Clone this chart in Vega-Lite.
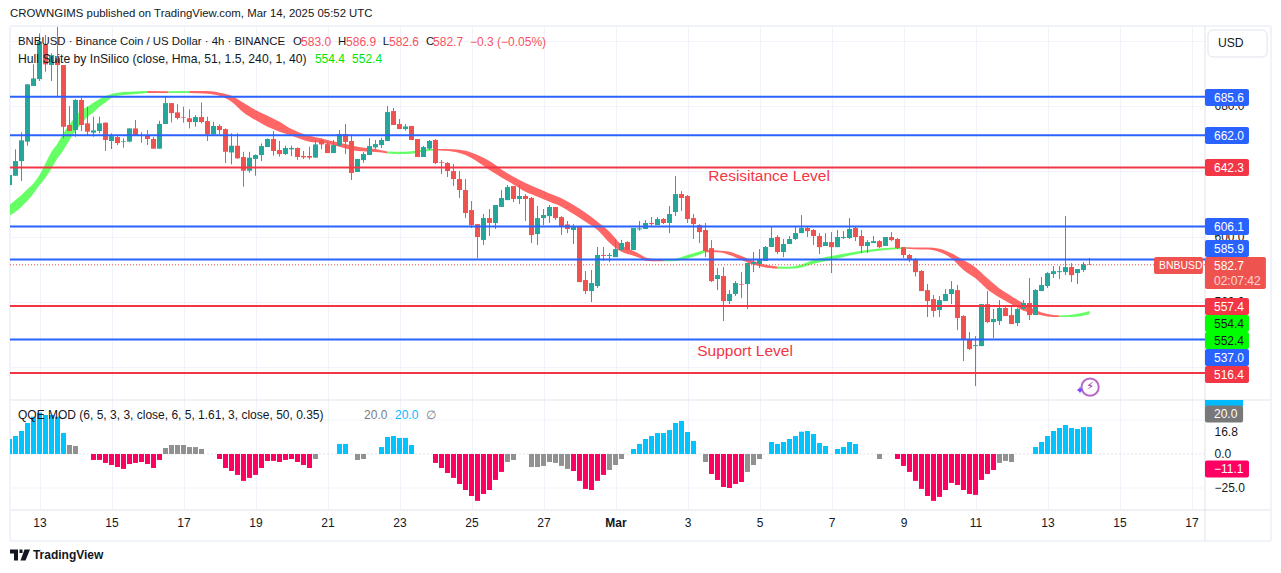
{"$schema":"https://vega.github.io/schema/vega-lite/v6.json","padding":{"left":8,"top":7,"right":0,"bottom":0},"spacing":0,"bounds":"flush","background":"#ffffff","config":{"font":"Liberation Sans","scale":{"continuousPadding":0},"view":{"stroke":null},"axis":{"labelColor":"#131722","labelFontSize":12,"gridColor":"#f0f3fa","domain":false,"ticks":false}},"datasets":{"candles":[{"i":0,"o":631.5,"h":645,"l":625,"c":637.7},{"i":1,"o":637.2,"h":653.4,"l":637.2,"c":646.2},{"i":2,"o":646.2,"h":663.8,"l":634,"c":658.9},{"i":3,"o":658.1,"h":693.2,"l":655.6,"c":693.2},{"i":4,"o":692.2,"h":705.4,"l":692.2,"c":696.8},{"i":5,"o":696.4,"h":724.4,"l":695.2,"c":719.3},{"i":6,"o":717.3,"h":723.4,"l":700.9,"c":705.4},{"i":7,"o":705,"h":712.2,"l":695.2,"c":711.1},{"i":8,"o":709.1,"h":735,"l":685.6,"c":705},{"i":9,"o":705,"h":705,"l":660.1,"c":667.2},{"i":10,"o":668.3,"h":679.9,"l":664.6,"c":664.6},{"i":11,"o":665.2,"h":684.2,"l":661.1,"c":683.6},{"i":12,"o":683.6,"h":685,"l":664.6,"c":668.3},{"i":13,"o":669.3,"h":679.5,"l":662.1,"c":664.2},{"i":14,"o":663.6,"h":673.4,"l":661.1,"c":665},{"i":15,"o":664.6,"h":673.4,"l":663.2,"c":669.3},{"i":16,"o":669.7,"h":669.9,"l":652.4,"c":659.1},{"i":17,"o":658.5,"h":663.2,"l":653.6,"c":661.5},{"i":18,"o":660.9,"h":661.5,"l":656,"c":657.2},{"i":19,"o":658.1,"h":660.1,"l":654.4,"c":658.5},{"i":20,"o":658.1,"h":666.2,"l":657.7,"c":666.2},{"i":21,"o":666.2,"h":671.3,"l":661.7,"c":661.7},{"i":22,"o":661.7,"h":663.8,"l":657.4,"c":662.1},{"i":23,"o":662.1,"h":665.2,"l":656,"c":659.7},{"i":24,"o":659.7,"h":661.1,"l":653.8,"c":653.8},{"i":25,"o":653.8,"h":670.9,"l":653.8,"c":668.9},{"i":26,"o":668.9,"h":685.6,"l":668.9,"c":681.7},{"i":27,"o":681.7,"h":681.7,"l":669.9,"c":675.6},{"i":28,"o":676,"h":681.1,"l":671.7,"c":672.6},{"i":29,"o":673,"h":679.5,"l":669.7,"c":672.6},{"i":30,"o":672.4,"h":677.9,"l":666.2,"c":670.1},{"i":31,"o":670.1,"h":674.4,"l":667.2,"c":673.2},{"i":32,"o":673.2,"h":682.1,"l":669.3,"c":670.1},{"i":33,"o":670.7,"h":673.4,"l":658.5,"c":662.6},{"i":34,"o":662.6,"h":670.3,"l":662.6,"c":667.7},{"i":35,"o":667.7,"h":668.7,"l":662.6,"c":665.2},{"i":36,"o":665.8,"h":666.2,"l":645,"c":651.9},{"i":37,"o":651.5,"h":663.2,"l":644.2,"c":655.6},{"i":38,"o":655.6,"h":663.2,"l":647.5,"c":647.9},{"i":39,"o":648.7,"h":651.9,"l":630.5,"c":640.3},{"i":40,"o":640.3,"h":651.9,"l":639.1,"c":648.3},{"i":41,"o":647.5,"h":650.3,"l":637.2,"c":649.9},{"i":42,"o":649.9,"h":657,"l":646.2,"c":655.4},{"i":43,"o":654.8,"h":660.1,"l":654.8,"c":659.7},{"i":44,"o":659.7,"h":664.6,"l":649.5,"c":652.4},{"i":45,"o":653,"h":658.5,"l":648.9,"c":650.5},{"i":46,"o":650.5,"h":655.6,"l":649.9,"c":654.2},{"i":47,"o":653.4,"h":655.6,"l":649.3,"c":654.2},{"i":48,"o":654.2,"h":654.6,"l":647,"c":648.7},{"i":49,"o":649.3,"h":652.4,"l":647.5,"c":648.5},{"i":50,"o":649.3,"h":655,"l":647.2,"c":648.3},{"i":51,"o":648.3,"h":659.1,"l":648.3,"c":656.4},{"i":52,"o":659.1,"h":660.1,"l":653.4,"c":656.4},{"i":53,"o":656.6,"h":658.1,"l":651.1,"c":651.1},{"i":54,"o":651.1,"h":659.1,"l":651.1,"c":656},{"i":55,"o":655.6,"h":665.2,"l":655.6,"c":662.8},{"i":56,"o":662.8,"h":668.9,"l":650.5,"c":657.9},{"i":57,"o":658.5,"h":662.6,"l":634.6,"c":638.9},{"i":58,"o":639.5,"h":647.5,"l":639.5,"c":647.5},{"i":59,"o":646.8,"h":651.7,"l":645.2,"c":650.5},{"i":60,"o":649.9,"h":660.3,"l":649.9,"c":655.4},{"i":61,"o":654.6,"h":659.1,"l":653.6,"c":656.6},{"i":62,"o":656,"h":660.5,"l":654.2,"c":659.1},{"i":63,"o":658.5,"h":679.9,"l":658.5,"c":676.2},{"i":64,"o":676.8,"h":678.7,"l":668.3,"c":668.3},{"i":65,"o":668.9,"h":671.9,"l":665.8,"c":665.8},{"i":66,"o":665.8,"h":668.9,"l":664.8,"c":667.4},{"i":67,"o":667.7,"h":667.7,"l":659.1,"c":659.1},{"i":68,"o":659.7,"h":659.7,"l":648.7,"c":648.7},{"i":69,"o":648.7,"h":655.4,"l":648.7,"c":654.8},{"i":70,"o":653.8,"h":659.1,"l":653,"c":658.5},{"i":71,"o":659.1,"h":659.7,"l":644.4,"c":645},{"i":72,"o":645.6,"h":646.8,"l":638.3,"c":645.2},{"i":73,"o":645,"h":645.6,"l":636.4,"c":640.1},{"i":74,"o":640.1,"h":644.4,"l":630.9,"c":635.2},{"i":75,"o":635.2,"h":640.1,"l":623.6,"c":628.5},{"i":76,"o":628.5,"h":635.2,"l":611.3,"c":614.4},{"i":77,"o":616.2,"h":621.7,"l":605.2,"c":607},{"i":78,"o":607.6,"h":607.6,"l":586.8,"c":599.7},{"i":79,"o":597.9,"h":613.8,"l":594.8,"c":611.3},{"i":80,"o":611.3,"h":616.8,"l":600.3,"c":608.3},{"i":81,"o":608.3,"h":619.3,"l":604.6,"c":619.3},{"i":82,"o":618.1,"h":628.5,"l":618.1,"c":623.6},{"i":83,"o":622.3,"h":631.5,"l":622.3,"c":630.3},{"i":84,"o":630.9,"h":630.9,"l":621.1,"c":623},{"i":85,"o":623,"h":631.5,"l":619.9,"c":624.8},{"i":86,"o":624.8,"h":626,"l":609.5,"c":623},{"i":87,"o":623.6,"h":624.2,"l":596,"c":600.9},{"i":88,"o":601.5,"h":618.7,"l":594.8,"c":611.3},{"i":89,"o":611.3,"h":616.8,"l":607,"c":613.2},{"i":90,"o":612.5,"h":619.3,"l":608.3,"c":618.1},{"i":91,"o":618.1,"h":618.1,"l":610.1,"c":611.3},{"i":92,"o":611.9,"h":612.5,"l":600.9,"c":605.8},{"i":93,"o":607.4,"h":609.5,"l":602.1,"c":604.6},{"i":94,"o":604,"h":607.6,"l":595.4,"c":605.8},{"i":95,"o":606.2,"h":606.4,"l":572.1,"c":572.1},{"i":96,"o":573.4,"h":578.9,"l":564.8,"c":566.6},{"i":97,"o":566.6,"h":579.5,"l":559.9,"c":571.5},{"i":98,"o":569.7,"h":593.6,"l":568.5,"c":588.7},{"i":99,"o":588.7,"h":593.6,"l":585,"c":588.1},{"i":100,"o":588.1,"h":589.9,"l":584.4,"c":588.7},{"i":101,"o":587.4,"h":598.5,"l":587.4,"c":592.3},{"i":102,"o":591.7,"h":597.9,"l":591.7,"c":596},{"i":103,"o":596.6,"h":597.2,"l":591.7,"c":591.7},{"i":104,"o":591.7,"h":605.2,"l":591.7,"c":605.2},{"i":105,"o":604.4,"h":609.5,"l":603.6,"c":605},{"i":106,"o":604.6,"h":610.1,"l":604.6,"c":608.3},{"i":107,"o":608.3,"h":611.9,"l":605.8,"c":607.6},{"i":108,"o":607,"h":611.9,"l":607,"c":610.7},{"i":109,"o":610.7,"h":611.3,"l":607.6,"c":608.3},{"i":110,"o":608.3,"h":618.7,"l":602.1,"c":613.8},{"i":111,"o":615,"h":637,"l":612.5,"c":626},{"i":112,"o":626,"h":627.8,"l":615.6,"c":623.6},{"i":113,"o":624.8,"h":625.4,"l":608.3,"c":610.7},{"i":114,"o":611.3,"h":613.8,"l":598.5,"c":607.6},{"i":115,"o":607,"h":607.6,"l":596,"c":602.7},{"i":116,"o":604,"h":608.3,"l":587.4,"c":591.1},{"i":117,"o":592.9,"h":597.8,"l":572.1,"c":572.7},{"i":118,"o":574,"h":580.7,"l":567.2,"c":576.4},{"i":119,"o":575.8,"h":581.3,"l":548.2,"c":560.5},{"i":120,"o":560.5,"h":567.2,"l":558.6,"c":564.8},{"i":121,"o":564.8,"h":572.7,"l":563.6,"c":571.5},{"i":122,"o":570.9,"h":578.2,"l":562.3,"c":570.5},{"i":123,"o":570.9,"h":583.8,"l":555.6,"c":583.8},{"i":124,"o":583.1,"h":590.5,"l":578.2,"c":584.4},{"i":125,"o":583.1,"h":592.3,"l":580.7,"c":586.2},{"i":126,"o":585,"h":594.2,"l":585,"c":593.6},{"i":127,"o":593.6,"h":606.4,"l":593.6,"c":599.1},{"i":128,"o":599.7,"h":600.9,"l":589.3,"c":590.5},{"i":129,"o":590.5,"h":598.5,"l":587.4,"c":595.4},{"i":130,"o":595.4,"h":600.3,"l":595.4,"c":598.5},{"i":131,"o":598.5,"h":606.4,"l":597.8,"c":602.1},{"i":132,"o":602.1,"h":613.1,"l":602.1,"c":605.2},{"i":133,"o":605.2,"h":606.4,"l":599.7,"c":603.3},{"i":134,"o":604,"h":604.6,"l":594.8,"c":600.3},{"i":135,"o":600.3,"h":602.1,"l":589.3,"c":593.5},{"i":136,"o":594.2,"h":602.1,"l":594.2,"c":596.6},{"i":137,"o":596.6,"h":602.7,"l":577.6,"c":593.5},{"i":138,"o":593.5,"h":604,"l":593.5,"c":599.7},{"i":139,"o":599.1,"h":603.3,"l":598.5,"c":599.7},{"i":140,"o":599.1,"h":611.3,"l":598.5,"c":604.6},{"i":141,"o":605.2,"h":606.4,"l":597.2,"c":599.7},{"i":142,"o":600.3,"h":604,"l":589.9,"c":594.2},{"i":143,"o":594.2,"h":597.8,"l":589.9,"c":596.6},{"i":144,"o":596,"h":600.3,"l":596,"c":597.2},{"i":145,"o":597.2,"h":597.8,"l":592.9,"c":593.5},{"i":146,"o":594.2,"h":599.7,"l":594.2,"c":599.7},{"i":147,"o":599.7,"h":602.7,"l":597.2,"c":597.8},{"i":148,"o":598.5,"h":599.1,"l":592.3,"c":592.9},{"i":149,"o":593.5,"h":593.5,"l":586.8,"c":588.7},{"i":150,"o":588.7,"h":589.3,"l":584.4,"c":585.6},{"i":151,"o":586.2,"h":586.8,"l":575.6,"c":578.2},{"i":152,"o":578.9,"h":579.5,"l":566.6,"c":566.6},{"i":153,"o":567.2,"h":570.9,"l":550.7,"c":560.5},{"i":154,"o":561.7,"h":564.2,"l":550.7,"c":554.4},{"i":155,"o":555,"h":563.5,"l":550.7,"c":561.1},{"i":156,"o":560.5,"h":567.8,"l":560.5,"c":564.8},{"i":157,"o":564.8,"h":572.7,"l":558.6,"c":567.8},{"i":158,"o":567.2,"h":570.3,"l":542.7,"c":550.1},{"i":159,"o":551.3,"h":551.9,"l":523.7,"c":537.2},{"i":160,"o":537.2,"h":541.5,"l":530.5,"c":531.1},{"i":161,"o":532.9,"h":539,"l":508.4,"c":533.5},{"i":162,"o":532.9,"h":558.6,"l":532.9,"c":558.6},{"i":163,"o":558.6,"h":566.6,"l":547,"c":547.6},{"i":164,"o":547.6,"h":555.6,"l":537.8,"c":549.5},{"i":165,"o":548.2,"h":561.1,"l":545.8,"c":556.2},{"i":166,"o":556.2,"h":556.8,"l":551.3,"c":551.3},{"i":167,"o":551.9,"h":556.8,"l":546.4,"c":546.4},{"i":168,"o":547,"h":556.2,"l":545.2,"c":555.6},{"i":169,"o":555.6,"h":561.1,"l":555,"c":559.3},{"i":170,"o":559.3,"h":574.6,"l":548.8,"c":551.9},{"i":171,"o":551.9,"h":567.8,"l":551.9,"c":567.2},{"i":172,"o":566.6,"h":575.2,"l":566.6,"c":570.3},{"i":173,"o":569.7,"h":578.2,"l":568.4,"c":577.6},{"i":174,"o":577,"h":581.9,"l":574.6,"c":578.8},{"i":175,"o":578.2,"h":581.9,"l":573.9,"c":578.8},{"i":176,"o":578.2,"h":612.5,"l":576.4,"c":581.3},{"i":177,"o":581.3,"h":583.7,"l":572.1,"c":576.4},{"i":178,"o":577.6,"h":580.1,"l":570.9,"c":580.1},{"i":179,"o":579.5,"h":584.4,"l":578.2,"c":583.1},{"i":180,"o":583,"h":586.9,"l":582.6,"c":582.7}],"hull":[{"i":0,"a":619.3,"b":612.8,"s":"up","g":1},{"i":1,"a":622.3,"b":615.2,"s":"up","g":1},{"i":2,"a":625.4,"b":618.3,"s":"up","g":1},{"i":3,"a":629.1,"b":621.9,"s":"up","g":1},{"i":4,"a":632.5,"b":626.4,"s":"up","g":1},{"i":5,"a":637.7,"b":631.5,"s":"up","g":1},{"i":6,"a":644.8,"b":636,"s":"up","g":1},{"i":7,"a":651.9,"b":641.7,"s":"up","g":1},{"i":8,"a":657,"b":647.9,"s":"up","g":1},{"i":9,"a":663.2,"b":653,"s":"up","g":1},{"i":10,"a":668.7,"b":659.1,"s":"up","g":1},{"i":11,"a":673.4,"b":664.6,"s":"up","g":1},{"i":12,"a":677.5,"b":669.3,"s":"up","g":1},{"i":13,"a":679.5,"b":673.4,"s":"up","g":1},{"i":14,"a":682.1,"b":676,"s":"up","g":1},{"i":15,"a":684.2,"b":679.5,"s":"up","g":1},{"i":16,"a":686,"b":682.1,"s":"up","g":1},{"i":17,"a":687.3,"b":685,"s":"up","g":1},{"i":18,"a":688.1,"b":686.2,"s":"up","g":1},{"i":20,"a":688.7,"b":687,"s":"up","g":1},{"i":23,"a":689.1,"b":687.9,"s":"up","g":1},{"i":23,"a":689.1,"b":687.9,"s":"down","g":2},{"i":26.5,"a":688.9,"b":687.9,"s":"down","g":2},{"i":26.5,"a":688.9,"b":687.9,"s":"up","g":3},{"i":30,"a":689.1,"b":687.9,"s":"up","g":3},{"i":30,"a":689.1,"b":687.9,"s":"down","g":4},{"i":33,"a":689.1,"b":687.5,"s":"down","g":4},{"i":35,"a":688.1,"b":686.2,"s":"down","g":4},{"i":37,"a":686.2,"b":682.6,"s":"down","g":4},{"i":39,"a":681.9,"b":676,"s":"down","g":4},{"i":41,"a":677.5,"b":671.3,"s":"down","g":4},{"i":43,"a":674,"b":667.2,"s":"down","g":4},{"i":45,"a":670.3,"b":664.2,"s":"down","g":4},{"i":47,"a":665.8,"b":661.7,"s":"down","g":4},{"i":50,"a":661.7,"b":658.1,"s":"down","g":4},{"i":52,"a":660.1,"b":657.4,"s":"down","g":4},{"i":55,"a":657.4,"b":655,"s":"down","g":4},{"i":58,"a":655,"b":652.3,"s":"down","g":4},{"i":61,"a":653.6,"b":651.7,"s":"down","g":4},{"i":63,"a":652.1,"b":650.9,"s":"down","g":4},{"i":63,"a":652.1,"b":650.9,"s":"up","g":5},{"i":66,"a":651.9,"b":650.5,"s":"up","g":5},{"i":70,"a":653.6,"b":652.6,"s":"up","g":5},{"i":71,"a":653.6,"b":652.8,"s":"up","g":5},{"i":71,"a":653.6,"b":652.8,"s":"down","g":6},{"i":74,"a":653.4,"b":651.9,"s":"down","g":6},{"i":76,"a":652.6,"b":649.9,"s":"down","g":6},{"i":78,"a":649.9,"b":645.8,"s":"down","g":6},{"i":80,"a":646.2,"b":640.7,"s":"down","g":6},{"i":82,"a":641.1,"b":636.2,"s":"down","g":6},{"i":84,"a":636.6,"b":631.9,"s":"down","g":6},{"i":86,"a":632.8,"b":627.4,"s":"down","g":6},{"i":88,"a":629.5,"b":624.4,"s":"down","g":6},{"i":90,"a":626.4,"b":621.3,"s":"down","g":6},{"i":92,"a":623.4,"b":618.3,"s":"down","g":6},{"i":94,"a":619.3,"b":613.8,"s":"down","g":6},{"i":96,"a":614.6,"b":609.1,"s":"down","g":6},{"i":98,"a":609.1,"b":604,"s":"down","g":6},{"i":100,"a":602.9,"b":596.2,"s":"down","g":6},{"i":102,"a":594.8,"b":590.7,"s":"down","g":6},{"i":104,"a":591.1,"b":588.3,"s":"down","g":6},{"i":105,"a":589.3,"b":587,"s":"down","g":6},{"i":106,"a":587.2,"b":585.2,"s":"down","g":6},{"i":108,"a":586,"b":584.8,"s":"down","g":6},{"i":109,"a":585.6,"b":584.8,"s":"down","g":6},{"i":109,"a":585.6,"b":584.8,"s":"up","g":7},{"i":111,"a":586.4,"b":585,"s":"up","g":7},{"i":113,"a":588.7,"b":586.6,"s":"up","g":7},{"i":115,"a":590.9,"b":588.9,"s":"up","g":7},{"i":116,"a":591.7,"b":590.3,"s":"up","g":7},{"i":116,"a":591.7,"b":590.3,"s":"down","g":8},{"i":118,"a":591.5,"b":590.3,"s":"down","g":8},{"i":120,"a":590.7,"b":588.7,"s":"down","g":8},{"i":122,"a":588,"b":585.6,"s":"down","g":8},{"i":124,"a":585,"b":582.7,"s":"down","g":8},{"i":126,"a":582.7,"b":581.1,"s":"down","g":8},{"i":128,"a":581.7,"b":580.3,"s":"down","g":8},{"i":128,"a":581.7,"b":580.3,"s":"up","g":9},{"i":130,"a":581.5,"b":580.3,"s":"up","g":9},{"i":132,"a":582.9,"b":581.1,"s":"up","g":9},{"i":134,"a":585.6,"b":583.3,"s":"up","g":9},{"i":137,"a":588,"b":585.6,"s":"up","g":9},{"i":140,"a":590.1,"b":588.4,"s":"up","g":9},{"i":143,"a":591.7,"b":590.3,"s":"up","g":9},{"i":146,"a":592.9,"b":591.7,"s":"up","g":9},{"i":149.5,"a":593.5,"b":592.5,"s":"up","g":9},{"i":149.5,"a":593.5,"b":592.5,"s":"down","g":10},{"i":152,"a":593.3,"b":592.1,"s":"down","g":10},{"i":153,"a":593.3,"b":592.1,"s":"down","g":10},{"i":155,"a":592.5,"b":590.5,"s":"down","g":10},{"i":157,"a":589.7,"b":586.6,"s":"down","g":10},{"i":159,"a":585.6,"b":579.5,"s":"down","g":10},{"i":161,"a":581.1,"b":574.4,"s":"down","g":10},{"i":163,"a":574.4,"b":567.6,"s":"down","g":10},{"i":165,"a":568.2,"b":562.7,"s":"down","g":10},{"i":167,"a":563.5,"b":558.6,"s":"down","g":10},{"i":169,"a":559.1,"b":554.6,"s":"down","g":10},{"i":171,"a":555,"b":552.5,"s":"down","g":10},{"i":173,"a":552.5,"b":551.1,"s":"down","g":10},{"i":175,"a":551.7,"b":550.7,"s":"down","g":10},{"i":175,"a":551.7,"b":550.7,"s":"up","g":11},{"i":177,"a":552.1,"b":550.7,"s":"up","g":11},{"i":180,"a":554.4,"b":552.4,"s":"up","g":11}],"qqe":[{"i":0,"v":11,"k":"b"},{"i":1,"v":13.2,"k":"b"},{"i":2,"v":16.9,"k":"b"},{"i":3,"v":22.8,"k":"b"},{"i":4,"v":27.4,"k":"b"},{"i":5,"v":30.4,"k":"b"},{"i":6,"v":28.7,"k":"b"},{"i":7,"v":28.7,"k":"b"},{"i":8,"v":27.4,"k":"b"},{"i":9,"v":15.4,"k":"b"},{"i":10,"v":6.6,"k":"g"},{"i":11,"v":5.9,"k":"g"},{"i":14,"v":-4.4,"k":"p"},{"i":15,"v":-4.4,"k":"p"},{"i":16,"v":-6.6,"k":"p"},{"i":17,"v":-8.1,"k":"p"},{"i":18,"v":-9.6,"k":"p"},{"i":19,"v":-11,"k":"p"},{"i":20,"v":-7.4,"k":"p"},{"i":21,"v":-6.6,"k":"p"},{"i":22,"v":-5.9,"k":"p"},{"i":23,"v":-7.4,"k":"p"},{"i":24,"v":-10.3,"k":"p"},{"i":25,"v":-4.4,"k":"p"},{"i":26,"v":4.4,"k":"g"},{"i":27,"v":6.6,"k":"g"},{"i":28,"v":6.6,"k":"g"},{"i":29,"v":6.6,"k":"g"},{"i":30,"v":5.1,"k":"g"},{"i":31,"v":5.1,"k":"g"},{"i":32,"v":3.7,"k":"g"},{"i":35,"v":-3.7,"k":"p"},{"i":36,"v":-10.3,"k":"p"},{"i":37,"v":-12.5,"k":"p"},{"i":38,"v":-15.4,"k":"p"},{"i":39,"v":-19.8,"k":"p"},{"i":40,"v":-17.6,"k":"p"},{"i":41,"v":-15.4,"k":"p"},{"i":42,"v":-10.3,"k":"p"},{"i":43,"v":-5.1,"k":"p"},{"i":44,"v":-5.1,"k":"p"},{"i":45,"v":-5.9,"k":"p"},{"i":46,"v":-4.4,"k":"p"},{"i":47,"v":-3.7,"k":"p"},{"i":48,"v":-5.9,"k":"p"},{"i":49,"v":-8.1,"k":"p"},{"i":50,"v":-10.3,"k":"p"},{"i":51,"v":-3.7,"k":"g"},{"i":55,"v":7.4,"k":"b"},{"i":56,"v":7.4,"k":"b"},{"i":58,"v":-4.4,"k":"g"},{"i":59,"v":-3.7,"k":"g"},{"i":62,"v":5.1,"k":"b"},{"i":63,"v":12.5,"k":"b"},{"i":64,"v":13.2,"k":"b"},{"i":65,"v":11.8,"k":"b"},{"i":66,"v":11.8,"k":"b"},{"i":67,"v":6.6,"k":"b"},{"i":71,"v":-6.6,"k":"p"},{"i":72,"v":-10.3,"k":"p"},{"i":73,"v":-14,"k":"p"},{"i":74,"v":-17.6,"k":"p"},{"i":75,"v":-22.1,"k":"p"},{"i":76,"v":-26.5,"k":"p"},{"i":77,"v":-30.9,"k":"p"},{"i":78,"v":-34.5,"k":"p"},{"i":79,"v":-29.4,"k":"p"},{"i":80,"v":-26.5,"k":"p"},{"i":81,"v":-19.1,"k":"p"},{"i":82,"v":-13.2,"k":"p"},{"i":83,"v":-5.9,"k":"g"},{"i":84,"v":-4.4,"k":"g"},{"i":87,"v":-9.6,"k":"g"},{"i":88,"v":-9.6,"k":"g"},{"i":89,"v":-8.8,"k":"g"},{"i":90,"v":-5.9,"k":"g"},{"i":91,"v":-6.6,"k":"g"},{"i":92,"v":-8.8,"k":"g"},{"i":93,"v":-11,"k":"g"},{"i":94,"v":-12.5,"k":"p"},{"i":95,"v":-19.8,"k":"p"},{"i":96,"v":-25.7,"k":"p"},{"i":97,"v":-26.5,"k":"p"},{"i":98,"v":-19.8,"k":"p"},{"i":99,"v":-15.4,"k":"p"},{"i":100,"v":-11.8,"k":"g"},{"i":101,"v":-8.1,"k":"g"},{"i":102,"v":-3.7,"k":"g"},{"i":104,"v":3.7,"k":"b"},{"i":105,"v":7.4,"k":"b"},{"i":106,"v":11,"k":"b"},{"i":107,"v":13.2,"k":"b"},{"i":108,"v":15.4,"k":"b"},{"i":109,"v":15.4,"k":"b"},{"i":110,"v":17.6,"k":"b"},{"i":111,"v":22.8,"k":"b"},{"i":112,"v":24.3,"k":"b"},{"i":113,"v":16.2,"k":"b"},{"i":114,"v":9.6,"k":"b"},{"i":116,"v":-5.9,"k":"g"},{"i":117,"v":-14.7,"k":"p"},{"i":118,"v":-19.1,"k":"p"},{"i":119,"v":-24.3,"k":"p"},{"i":120,"v":-25,"k":"p"},{"i":121,"v":-22.1,"k":"p"},{"i":122,"v":-20.6,"k":"p"},{"i":123,"v":-13.2,"k":"g"},{"i":124,"v":-8.1,"k":"g"},{"i":125,"v":-3.7,"k":"g"},{"i":127,"v":8.8,"k":"b"},{"i":128,"v":7.4,"k":"b"},{"i":129,"v":8.8,"k":"b"},{"i":130,"v":11,"k":"b"},{"i":131,"v":13.2,"k":"b"},{"i":132,"v":16.4,"k":"b"},{"i":133,"v":16.9,"k":"b"},{"i":134,"v":14.7,"k":"b"},{"i":135,"v":8.1,"k":"b"},{"i":136,"v":5.9,"k":"b"},{"i":138,"v":3.7,"k":"b"},{"i":139,"v":5.1,"k":"b"},{"i":140,"v":8.8,"k":"b"},{"i":141,"v":7.4,"k":"b"},{"i":145,"v":-3.7,"k":"g"},{"i":148,"v":-3.7,"k":"p"},{"i":149,"v":-8.8,"k":"p"},{"i":150,"v":-13.2,"k":"p"},{"i":151,"v":-19.8,"k":"p"},{"i":152,"v":-25.7,"k":"p"},{"i":153,"v":-30.9,"k":"p"},{"i":154,"v":-34.5,"k":"p"},{"i":155,"v":-31.6,"k":"p"},{"i":156,"v":-26.5,"k":"p"},{"i":157,"v":-21.3,"k":"p"},{"i":158,"v":-22.8,"k":"p"},{"i":159,"v":-26.5,"k":"p"},{"i":160,"v":-29.4,"k":"p"},{"i":161,"v":-30.1,"k":"p"},{"i":162,"v":-19.1,"k":"p"},{"i":163,"v":-14.7,"k":"p"},{"i":164,"v":-11.8,"k":"p"},{"i":165,"v":-6.6,"k":"g"},{"i":166,"v":-5.1,"k":"g"},{"i":167,"v":-5.9,"k":"g"},{"i":171,"v":5.1,"k":"b"},{"i":172,"v":8.8,"k":"b"},{"i":173,"v":13.2,"k":"b"},{"i":174,"v":16.9,"k":"b"},{"i":175,"v":19.1,"k":"b"},{"i":176,"v":21.3,"k":"b"},{"i":177,"v":19.1,"k":"b"},{"i":178,"v":18.4,"k":"b"},{"i":179,"v":19.8,"k":"b"},{"i":180,"v":19.8,"k":"b"}]},"vconcat":[{"width":1195,"height":373,"resolve":{"scale":{"color":"independent","strokeWidth":"independent"}},"layer":[{"data":{"values":[{"a":0.08,"b":210.25,"c":728.9,"d":728.9,"k":"o"},{"a":0.08,"b":0.08,"c":728.9,"d":499.9,"k":"o"},{"a":210.25,"b":210.25,"c":728.9,"d":499.9,"k":"o"},{"a":199.25,"b":199.25,"c":728.9,"d":499.9,"k":"d"}]},"mark":{"type":"rule","clip":false},"encoding":{"x":{"field":"a","type":"quantitative","title":null,"scale":{"domain":[0.083,199.25],"nice":false},"axis":{"values":[5,17,29,41,53,65,77,89,101,113,125,137,149,161,173,185,197],"grid":true,"labels":false,"title":null}},"x2":{"field":"b"},"y":{"field":"c","type":"quantitative","title":null,"scale":{"domain":[499.9,728.3],"nice":false},"axis":{"orient":"right","values":[720,700,680,660,640,620,600,580,560,540,520],"grid":true,"labelPadding":9,"tickSize":0,"labelExpr":"format(datum.value,'.1f')","title":null}},"y2":{"field":"d"},"color":{"field":"k","type":"nominal","scale":{"domain":["o","d"],"range":["#f0f3fa","#e0e3eb"]},"legend":null},"strokeWidth":{"field":"k","type":"nominal","scale":{"domain":["o","d"],"range":[2,1]},"legend":null}}},{"data":{"name":"hull"},"mark":{"type":"area","opacity":0.6,"clip":true,"interpolate":"monotone"},"encoding":{"x":{"field":"i","type":"quantitative","title":null,"scale":{"domain":[0.083,199.25],"nice":false}},"y":{"field":"a","type":"quantitative","title":null,"scale":{"domain":[499.9,728.3],"nice":false}},"y2":{"field":"b"},"detail":{"field":"g"},"color":{"field":"s","type":"nominal","scale":{"domain":["up","down"],"range":["#00ff00","#ff0000"]},"legend":null}}},{"data":{"name":"candles"},"mark":{"type":"rule","clip":true,"strokeWidth":1},"encoding":{"x":{"field":"i","type":"quantitative","title":null,"scale":{"domain":[0.083,199.25],"nice":false}},"y":{"field":"h","type":"quantitative","title":null,"scale":{"domain":[499.9,728.3],"nice":false}},"y2":{"field":"l"},"color":{"condition":{"test":"datum.c>=datum.o","value":"#26a69a"},"value":"#ef5350"}}},{"data":{"name":"candles"},"mark":{"type":"bar","clip":true,"size":5},"encoding":{"x":{"field":"i","type":"quantitative","title":null,"scale":{"domain":[0.083,199.25],"nice":false}},"y":{"field":"o","type":"quantitative","title":null,"scale":{"domain":[499.9,728.3],"nice":false}},"y2":{"field":"c"},"color":{"condition":{"test":"datum.c>=datum.o","value":"#26a69a"},"value":"#ef5350"}}},{"data":{"values":[{"p":685.6,"k":"blue"},{"p":662,"k":"blue"},{"p":642.3,"k":"red"},{"p":606.1,"k":"blue"},{"p":585.9,"k":"blue"},{"p":557.4,"k":"red"},{"p":537,"k":"blue"},{"p":516.4,"k":"red"}]},"mark":{"type":"rule","strokeWidth":2},"encoding":{"y":{"field":"p","type":"quantitative","title":null,"scale":{"domain":[499.9,728.3],"nice":false}},"color":{"field":"k","type":"nominal","scale":{"domain":["blue","red"],"range":["#2962ff","#f23645"]},"legend":null}}},{"data":{"values":[{"p":582.7}]},"mark":{"type":"rule","strokeWidth":1,"strokeDash":[1,2],"color":"#ef5350"},"encoding":{"y":{"field":"p","type":"quantitative","title":null,"scale":{"domain":[499.9,728.3],"nice":false}}}},{"data":{"values":[{"label":"685.6","pos":685.1,"k":"blue"},{"label":"662.0","pos":661.8,"k":"blue"},{"label":"642.3","pos":642.2,"k":"red"},{"label":"606.1","pos":606.1,"k":"blue"},{"label":"585.9","pos":592.6,"k":"blue"},{"label":"557.4","pos":557.1,"k":"red"},{"label":"554.4","pos":546.7,"k":"green"},{"label":"552.4","pos":536.3,"k":"green"},{"label":"537.0","pos":525.9,"k":"blue"},{"label":"516.4","pos":515.5,"k":"red"}]},"resolve":{"scale":{"color":"independent"}},"layer":[{"mark":{"type":"bar","orient":"horizontal","size":17,"clip":false,"cornerRadiusEnd":2},"encoding":{"x":{"datum":199.25,"type":"quantitative","title":null,"scale":{"domain":[0.083,199.25],"nice":false}},"x2":{"datum":206.58},"y":{"field":"pos","type":"quantitative","title":null,"scale":{"domain":[499.9,728.3],"nice":false}},"color":{"field":"k","type":"nominal","scale":{"domain":["blue","red","green"],"range":["#2962ff","#f23645","#00ff00"]},"legend":null}}},{"mark":{"type":"text","align":"left","baseline":"middle","fontSize":12,"clip":false},"encoding":{"x":{"datum":200.75,"type":"quantitative","title":null,"scale":{"domain":[0.083,199.25],"nice":false}},"y":{"field":"pos","type":"quantitative","title":null,"scale":{"domain":[499.9,728.3],"nice":false}},"text":{"field":"label"},"color":{"condition":{"test":"datum.k=='green'","value":"#131722"},"value":"#ffffff"}}}]},{"data":{"values":[{"a":190.75,"b":198.9,"p":582.2,"k":"name"}]},"mark":{"type":"bar","orient":"horizontal","size":17,"clip":false,"cornerRadius":2,"color":"#ef5350"},"encoding":{"x":{"field":"a","type":"quantitative","title":null,"scale":{"domain":[0.083,199.25],"nice":false}},"x2":{"field":"b"},"y":{"field":"p","type":"quantitative","title":null,"scale":{"domain":[499.9,728.3],"nice":false}}}},{"data":{"values":[{"a":199.25,"b":209.4,"p":577.6,"k":"last"}]},"mark":{"type":"bar","orient":"horizontal","size":32,"clip":false,"cornerRadiusEnd":2,"color":"#ef5350"},"encoding":{"x":{"field":"a","type":"quantitative","title":null,"scale":{"domain":[0.083,199.25],"nice":false}},"x2":{"field":"b"},"y":{"field":"p","type":"quantitative","title":null,"scale":{"domain":[499.9,728.3],"nice":false}}}},{"data":{"values":[{"a":199.75,"b":209.6,"p":718.2,"k":"usd"}]},"mark":{"type":"bar","orient":"horizontal","size":27,"clip":false,"cornerRadius":5,"color":"#ffffff","stroke":"#e0e3eb"},"encoding":{"x":{"field":"a","type":"quantitative","title":null,"scale":{"domain":[0.083,199.25],"nice":false}},"x2":{"field":"b"},"y":{"field":"p","type":"quantitative","title":null,"scale":{"domain":[499.9,728.3],"nice":false}}}},{"data":{"values":[{"t":"582.7","i":200.75,"p":581.9}]},"mark":{"type":"text","align":"left","baseline":"middle","fontSize":12,"clip":false,"color":"#ffffff"},"encoding":{"x":{"field":"i","type":"quantitative","title":null,"scale":{"domain":[0.083,199.25],"nice":false}},"y":{"field":"p","type":"quantitative","title":null,"scale":{"domain":[499.9,728.3],"nice":false}},"text":{"field":"t"}}},{"data":{"values":[{"t":"BNBUSD","i":191.6,"p":582.2}]},"mark":{"type":"text","align":"left","baseline":"middle","fontSize":10.4,"clip":false,"color":"#ffffff"},"encoding":{"x":{"field":"i","type":"quantitative","title":null,"scale":{"domain":[0.083,199.25],"nice":false}},"y":{"field":"p","type":"quantitative","title":null,"scale":{"domain":[499.9,728.3],"nice":false}},"text":{"field":"t"}}},{"data":{"values":[{"t":"02:07:42","i":200.75,"p":572.7}]},"mark":{"type":"text","align":"left","baseline":"middle","fontSize":12,"clip":false,"color":"#ffffff","opacity":0.75},"encoding":{"x":{"field":"i","type":"quantitative","title":null,"scale":{"domain":[0.083,199.25],"nice":false}},"y":{"field":"p","type":"quantitative","title":null,"scale":{"domain":[499.9,728.3],"nice":false}},"text":{"field":"t"}}},{"data":{"values":[{"t":"CROWNGIMS published on TradingView.com, Mar 14, 2025 05:52 UTC","i":0.08,"p":736.3},{"t":"BNBUSD · Binance Coin / US Dollar · 4h · BINANCE","i":1.42,"p":719.1},{"t":"O","i":47.25,"p":719.1},{"t":"H","i":54.75,"p":719.1},{"t":"L","i":62.2,"p":719.1},{"t":"C","i":69.4,"p":719.1}]},"mark":{"type":"text","align":"left","baseline":"middle","fontSize":11.4,"clip":false,"color":"#131722"},"encoding":{"x":{"field":"i","type":"quantitative","title":null,"scale":{"domain":[0.083,199.25],"nice":false}},"y":{"field":"p","type":"quantitative","title":null,"scale":{"domain":[499.9,728.3],"nice":false}},"text":{"field":"t"}}},{"data":{"values":[{"t":"Hull Suite by InSilico (close, Hma, 51, 1.5, 240, 1, 40)","i":1.42,"p":708.7},{"t":"USD","i":201.4,"p":718.2}]},"mark":{"type":"text","align":"left","baseline":"middle","fontSize":12.2,"clip":false,"color":"#131722"},"encoding":{"x":{"field":"i","type":"quantitative","title":null,"scale":{"domain":[0.083,199.25],"nice":false}},"y":{"field":"p","type":"quantitative","title":null,"scale":{"domain":[499.9,728.3],"nice":false}},"text":{"field":"t"}}},{"data":{"values":[{"t":"583.0","i":48.6,"p":719.1},{"t":"586.9","i":56.1,"p":719.1},{"t":"582.6","i":63.25,"p":719.1},{"t":"582.7","i":70.6,"p":719.1},{"t":"−0.3 (−0.05%)","i":76.75,"p":719.1}]},"mark":{"type":"text","align":"left","baseline":"middle","fontSize":12,"clip":false,"color":"#f7525f"},"encoding":{"x":{"field":"i","type":"quantitative","title":null,"scale":{"domain":[0.083,199.25],"nice":false}},"y":{"field":"p","type":"quantitative","title":null,"scale":{"domain":[499.9,728.3],"nice":false}},"text":{"field":"t"}}},{"data":{"values":[{"t":"554.4","i":50.9,"p":708.7},{"t":"552.4","i":57.1,"p":708.7}]},"mark":{"type":"text","align":"left","baseline":"middle","fontSize":12,"clip":false,"color":"#00e600"},"encoding":{"x":{"field":"i","type":"quantitative","title":null,"scale":{"domain":[0.083,199.25],"nice":false}},"y":{"field":"p","type":"quantitative","title":null,"scale":{"domain":[499.9,728.3],"nice":false}},"text":{"field":"t"}}},{"data":{"values":[{"t":"Resisitance Level","i":126.6,"p":637},{"t":"Support Level","i":122.6,"p":529.9}]},"mark":{"type":"text","align":"center","baseline":"middle","fontSize":15.5,"clip":false,"color":"#f23645"},"encoding":{"x":{"field":"i","type":"quantitative","title":null,"scale":{"domain":[0.083,199.25],"nice":false}},"y":{"field":"p","type":"quantitative","title":null,"scale":{"domain":[499.9,728.3],"nice":false}},"text":{"field":"t"}}},{"data":{"values":[{"i":180.1,"p":507.8}]},"mark":{"type":"point","shape":"circle","size":300,"filled":false,"stroke":"#9c27b0","strokeWidth":2,"clip":false},"encoding":{"x":{"field":"i","type":"quantitative","title":null,"scale":{"domain":[0.083,199.25],"nice":false}},"y":{"field":"p","type":"quantitative","title":null,"scale":{"domain":[499.9,728.3],"nice":false}}}},{"data":{"values":[{"t":"⚡","i":180.1,"p":507.8}]},"mark":{"type":"text","align":"center","baseline":"middle","fontSize":11,"font":"DejaVu Sans","clip":false,"color":"#9c27b0"},"encoding":{"x":{"field":"i","type":"quantitative","title":null,"scale":{"domain":[0.083,199.25],"nice":false}},"y":{"field":"p","type":"quantitative","title":null,"scale":{"domain":[499.9,728.3],"nice":false}},"text":{"field":"t"}}},{"data":{"values":[{"t":"✦","i":178.4,"p":505.4}]},"mark":{"type":"text","align":"center","baseline":"middle","fontSize":11,"font":"DejaVu Sans","clip":false,"color":"#7c4dff"},"encoding":{"x":{"field":"i","type":"quantitative","title":null,"scale":{"domain":[0.083,199.25],"nice":false}},"y":{"field":"p","type":"quantitative","title":null,"scale":{"domain":[499.9,728.3],"nice":false}},"text":{"field":"t"}}}]},{"width":1195,"height":110,"resolve":{"scale":{"color":"independent","strokeWidth":"independent"}},"layer":[{"data":{"values":[{"a":0.08,"b":210.25,"c":39.7,"d":39.7,"k":"d"},{"a":0.08,"b":210.25,"c":-41.2,"d":-41.2,"k":"d"},{"a":0.08,"b":210.25,"c":-64,"d":-64,"k":"o"},{"a":0.08,"b":0.08,"c":39.7,"d":-64,"k":"o"},{"a":210.25,"b":210.25,"c":39.7,"d":-64,"k":"o"},{"a":199.25,"b":199.25,"c":39.7,"d":-64,"k":"d"}]},"mark":{"type":"rule","clip":false},"encoding":{"x":{"field":"a","type":"quantitative","title":null,"scale":{"domain":[0.083,199.25],"nice":false},"axis":{"values":[5,17,29,41,53,65,77,89,101,113,125,137,149,161,173,185,197],"grid":true,"labelPadding":7,"tickSize":0,"labelFontWeight":{"expr":"datum.value==101?'bold':'normal'"},"labelExpr":"['13','15','17','19','21','23','25','27','Mar','3','5','7','9','11','13','15','17'][(datum.value-5)/12]","title":null}},"x2":{"field":"b"},"y":{"field":"c","type":"quantitative","title":null,"scale":{"domain":[-41.2,39.7],"nice":false},"axis":{"orient":"right","values":[16.8,0,-25],"grid":false,"labelPadding":9,"tickSize":0,"labelExpr":"datum.value==-25?'−25.0':format(datum.value,'.1f')","title":null}},"y2":{"field":"d"},"color":{"field":"k","type":"nominal","scale":{"domain":["o","d"],"range":["#f0f3fa","#e0e3eb"]},"legend":null},"strokeWidth":{"field":"k","type":"nominal","scale":{"domain":["o","d"],"range":[2,1]},"legend":null}}},{"data":{"values":[{"v":25},{"v":-25}]},"mark":{"type":"rule","strokeWidth":1,"color":"#f0f3fa"},"encoding":{"y":{"field":"v","type":"quantitative","title":null,"scale":{"domain":[-41.2,39.7],"nice":false}}}},{"data":{"values":[{"v":0}]},"mark":{"type":"rule","strokeDash":[2,2],"strokeWidth":1,"color":"#e0e3eb"},"encoding":{"y":{"field":"v","type":"quantitative","title":null,"scale":{"domain":[-41.2,39.7],"nice":false}}}},{"data":{"name":"qqe"},"mark":{"type":"bar","size":5,"clip":true},"encoding":{"x":{"field":"i","type":"quantitative","title":null,"scale":{"domain":[0.083,199.25],"nice":false}},"y":{"field":"v","type":"quantitative","title":null,"scale":{"domain":[-41.2,39.7],"nice":false}},"y2":{"datum":0},"color":{"field":"k","type":"nominal","scale":{"domain":["b","p","g"],"range":["#00c3ff","#ff0062","#919191"]},"legend":null}}},{"data":{"values":[{"a":199.25,"b":205.6,"p":39.7,"q":35.3}]},"mark":{"type":"rect","color":"#00bcff","clip":false},"encoding":{"x":{"field":"a","type":"quantitative","title":null,"scale":{"domain":[0.083,199.25],"nice":false}},"x2":{"field":"b"},"y":{"field":"p","type":"quantitative","title":null,"scale":{"domain":[-41.2,39.7],"nice":false}},"y2":{"field":"q"}}},{"data":{"values":[{"t":"20.0","a":199.25,"b":205.6,"p":29.4,"k":"g"},{"t":"−11.1","a":199.25,"b":206.58,"p":-11.1,"k":"p"}]},"resolve":{"scale":{"color":"independent"}},"layer":[{"mark":{"type":"bar","orient":"horizontal","size":17,"clip":false,"cornerRadiusEnd":2},"encoding":{"x":{"field":"a","type":"quantitative","title":null,"scale":{"domain":[0.083,199.25],"nice":false}},"x2":{"field":"b"},"y":{"field":"p","type":"quantitative","title":null,"scale":{"domain":[-41.2,39.7],"nice":false}},"color":{"field":"k","type":"nominal","scale":{"domain":["g","p"],"range":["#787878","#ff0062"]},"legend":null}}},{"mark":{"type":"text","align":"left","baseline":"middle","fontSize":12,"clip":false,"color":"#ffffff"},"encoding":{"x":{"datum":200.75,"type":"quantitative","title":null,"scale":{"domain":[0.083,199.25],"nice":false}},"y":{"field":"p","type":"quantitative","title":null,"scale":{"domain":[-41.2,39.7],"nice":false}},"text":{"field":"t"}}}]},{"data":{"values":[{"t":"QQE MOD (6, 5, 3, 3, close, 6, 5, 1.61, 3, close, 50, 0.35)","i":1.42,"p":28.7}]},"mark":{"type":"text","align":"left","baseline":"middle","fontSize":12,"clip":false,"color":"#131722"},"encoding":{"x":{"field":"i","type":"quantitative","title":null,"scale":{"domain":[0.083,199.25],"nice":false}},"y":{"field":"p","type":"quantitative","title":null,"scale":{"domain":[-41.2,39.7],"nice":false}},"text":{"field":"t"}}},{"data":{"values":[{"t":"20.0","i":59.1,"p":28.7},{"t":"∅","i":69.4,"p":28.7}]},"mark":{"type":"text","align":"left","baseline":"middle","fontSize":12,"clip":false,"color":"#787b86"},"encoding":{"x":{"field":"i","type":"quantitative","title":null,"scale":{"domain":[0.083,199.25],"nice":false}},"y":{"field":"p","type":"quantitative","title":null,"scale":{"domain":[-41.2,39.7],"nice":false}},"text":{"field":"t"}}},{"data":{"values":[{"t":"20.0","i":64.25,"p":28.7}]},"mark":{"type":"text","align":"left","baseline":"middle","fontSize":12,"clip":false,"color":"#00bcff"},"encoding":{"x":{"field":"i","type":"quantitative","title":null,"scale":{"domain":[0.083,199.25],"nice":false}},"y":{"field":"p","type":"quantitative","title":null,"scale":{"domain":[-41.2,39.7],"nice":false}},"text":{"field":"t"}}},{"data":{"values":[{"i":1.75,"p":-74.3}]},"mark":{"type":"point","shape":"M-1,-0.55H-0.2V0.55H-0.6V-0.15H-1ZM-0.05,-0.55H0.25V-0.2H-0.05ZM0.45,-0.55H1L0.55,0.55H0.05Z","size":400,"filled":true,"opacity":1,"color":"#131722","clip":false},"encoding":{"x":{"field":"i","type":"quantitative","title":null,"scale":{"domain":[0.083,199.25],"nice":false}},"y":{"field":"p","type":"quantitative","title":null,"scale":{"domain":[-41.2,39.7],"nice":false}}}},{"data":{"values":[{"t":"TradingView","i":3.9,"p":-74.3}]},"mark":{"type":"text","align":"left","baseline":"middle","fontSize":12,"fontWeight":"bold","clip":false,"color":"#131722"},"encoding":{"x":{"field":"i","type":"quantitative","title":null,"scale":{"domain":[0.083,199.25],"nice":false}},"y":{"field":"p","type":"quantitative","title":null,"scale":{"domain":[-41.2,39.7],"nice":false}},"text":{"field":"t"}}}]}]}
